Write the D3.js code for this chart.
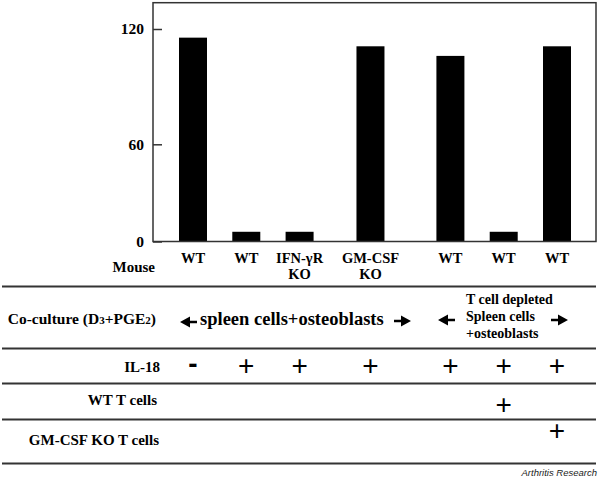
<!DOCTYPE html>
<html><head><meta charset="utf-8">
<script src="https://cdn.jsdelivr.net/npm/d3@7"></script>
<style>
html,body{margin:0;padding:0;background:#fff;}
svg{display:block;}
</style></head>
<body>
<svg id="c" width="600" height="478"></svg>
<script>
// ---- data ----
const mouse = [["WT"],["WT"],["IFN-\u03b3R","KO"],["GM-CSF","KO"],["WT"],["WT"],["WT"]];
const values = [115.5, 6, 6, 111, 106, 6, 111];
const yTicks = [0, 60, 120];
const il18 = ["-","+","+","+","+","+","+"];
const wtTcells = ["","","","","","+",""];
const gmTcells = ["","","","","","","+"];
const rowLabels = ["Mouse","IL-18","WT T cells","GM-CSF KO T cells"];
const group1 = "spleen cells+osteoblasts";
const group2 = ["T cell depleted","Spleen cells","+osteoblasts"];

// ---- layout ----
const SERIF = "'Liberation Serif','Times New Roman','DejaVu Serif',serif";
const SANS = "'Liberation Sans',Arial,sans-serif";
const slot = [0, 1, 2, 3.33, 4.83, 5.83, 6.83];
const svg = d3.select("#c");
const x = d3.scaleLinear().domain([0, 6.83]).range([193, 557]);
const y = d3.scaleLinear().domain([0, 60, 120]).range([241.5, 144.3, 29]);
const barW = 28;
const frame = {l:153, t:2.7, r:596, b:241.5};

function serif(sel, size){
  return sel.style("font-family",SERIF).style("font-weight","bold").style("font-size",size).attr("fill","#000");
}

// bars
svg.append("g").selectAll("rect").data(values).join("rect")
  .attr("x", (d,i)=>x(slot[i]) - barW/2)
  .attr("width", barW)
  .attr("y", d=>y(d))
  .attr("height", d=>y(0)-y(d))
  .attr("fill","#000");

// frame
svg.append("rect").attr("x",frame.l).attr("y",frame.t)
  .attr("width",frame.r-frame.l).attr("height",frame.b-frame.t)
  .attr("fill","none").attr("stroke","#333").attr("stroke-width",1.5);

// y axis
const ax = svg.append("g").attr("transform",`translate(${frame.l},0)`)
  .call(d3.axisLeft(y).tickValues(yTicks).tickSizeInner(-9).tickSizeOuter(0).tickPadding(9));
ax.select(".domain").remove();
ax.selectAll(".tick line").attr("stroke","#333").attr("stroke-width",1.5);
serif(ax.selectAll(".tick text"),"15.5px");

// mouse labels
const ml = serif(svg.append("g").selectAll("text").data(mouse).join("text"),"14.5px")
  .attr("text-anchor","middle")
  .attr("x",(d,i)=>x(slot[i])).attr("y",263);
ml.selectAll("tspan").data(d=>d).join("tspan")
  .attr("x",function(){return this.parentNode.getAttribute("x");})
  .attr("dy",(d,j)=>j?16:0).text(d=>d);

// row labels
const rl = [[rowLabels[0],155,272],[rowLabels[1],160,371.5],[rowLabels[2],157,405],[rowLabels[3],159,445]];
serif(svg.append("g").selectAll("text").data(rl).join("text"),"15px")
  .attr("text-anchor","end")
  .attr("x",d=>d[1]).attr("y",d=>d[2]).text(d=>d[0]);

// co-culture label
const cc = serif(svg.append("text"),"15.5px").attr("text-anchor","end").attr("x",156).attr("y",324.3);
cc.append("tspan").text("Co-culture (D");
cc.append("tspan").style("font-size","11px").text("3");
cc.append("tspan").text("+PGE");
cc.append("tspan").style("font-size","11px").text("2");
cc.append("tspan").text(")");

// separators
svg.append("g").selectAll("line").data([286.5,348.5,383.5,419.5,463.5]).join("line")
  .attr("x1",2).attr("x2",596).attr("y1",d=>d).attr("y2",d=>d)
  .attr("stroke","#333").attr("stroke-width",2);

// group texts
serif(svg.append("text"),"18.5px").attr("x",200).attr("y",325).text(group1);
serif(svg.append("g").selectAll("text").data(group2).join("text"),"14px")
  .attr("x",466).attr("y",(d,i)=>304+i*17).text(d=>d);

// arrows
function arrow(x0,x1,yy,dir){
  const hl=10, hh=5.5, sw=1.3;
  let p;
  if(dir<0){
    p=`M${x0},${yy} L${x0+hl},${yy-hh} L${x0+hl},${yy-sw} L${x1},${yy-sw} L${x1},${yy+sw} L${x0+hl},${yy+sw} L${x0+hl},${yy+hh} Z`;
  } else {
    p=`M${x1},${yy} L${x1-hl},${yy-hh} L${x1-hl},${yy-sw} L${x0},${yy-sw} L${x0},${yy+sw} L${x1-hl},${yy+sw} L${x1-hl},${yy+hh} Z`;
  }
  svg.append("path").attr("d",p).attr("fill","#000");
}
arrow(180,197,322,-1);
arrow(394,411,321,1);
arrow(438,455,320,-1);
arrow(551,568,320,1);

// sign rows
function signs(arr, cy){
  svg.append("g").selectAll("text").data(arr).join("text")
    .attr("text-anchor","middle")
    .attr("x",(d,i)=>x(slot[i]))
    .attr("y",d=> d==="-" ? cy+8.5 : cy+10)
    .style("font-family",SANS)
    .style("font-weight",d=>d==="-"?"bold":"normal")
    .style("font-size","28px")
    .attr("fill","#000")
    .text(d=>d);
}
signs(il18, 364.5);
signs(wtTcells, 404.3);
signs(gmTcells, 430);

// footer
svg.append("text").attr("text-anchor","end").attr("x",597).attr("y",476)
  .style("font-family",SANS).style("font-weight","normal")
  .style("font-style","italic").style("font-size","9.5px").attr("fill","#222")
  .text("Arthritis Research");
</script>
</body></html>
